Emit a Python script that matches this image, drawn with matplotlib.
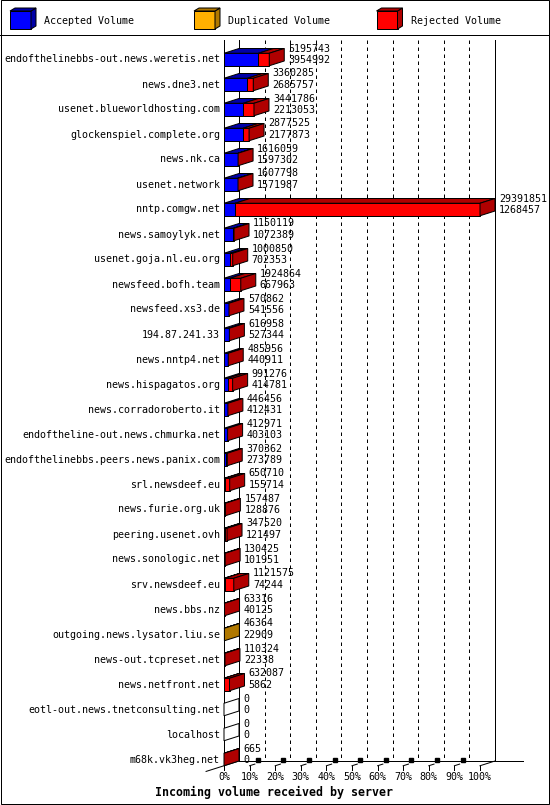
import matplotlib
matplotlib.use("Agg")
import matplotlib.pyplot as plt
from matplotlib.patches import Polygon, Rectangle
import numpy as np

servers = [
    "endofthelinebbs-out.news.weretis.net", "news.dne3.net",
    "usenet.blueworldhosting.com", "glockenspiel.complete.org",
    "news.nk.ca", "usenet.network", "nntp.comgw.net", "news.samoylyk.net",
    "usenet.goja.nl.eu.org", "newsfeed.bofh.team", "newsfeed.xs3.de",
    "194.87.241.33", "news.nntp4.net", "news.hispagatos.org",
    "news.corradoroberto.it", "endoftheline-out.news.chmurka.net",
    "endofthelinebbs.peers.news.panix.com", "srl.newsdeef.eu",
    "news.furie.org.uk", "peering.usenet.ovh", "news.sonologic.net",
    "srv.newsdeef.eu", "news.bbs.nz", "outgoing.news.lysator.liu.se",
    "news-out.tcpreset.net", "news.netfront.net",
    "eotl-out.news.tnetconsulting.net", "localhost", "m68k.vk3heg.net",
]
offered = [5195743, 3360285, 3441786, 2877525, 1616059, 1607798, 29391851,
           1150119, 1000850, 1924864, 570862, 616958, 485956, 991276, 446456,
           412971, 370362, 650710, 157487, 347520, 130425, 1121575, 63316,
           46364, 110324, 632087, 0, 0, 665]
accepted = [3954992, 2685757, 2213053, 2177873, 1597302, 1571987, 1268457,
            1072389, 702353, 667963, 541556, 527344, 440911, 414781, 412431,
            403103, 273789, 155714, 128876, 121497, 101951, 74244, 40125,
            22909, 22338, 5862, 0, 0, 0]
duplicated = [0] * len(servers)
duplicated[servers.index("outgoing.news.lysator.liu.se")] = 46364 - 22909
rejected = [o - a - d for o, a, d in zip(offered, accepted, duplicated)]

legend_labels = ["Accepted Volume", "Duplicated Volume", "Rejected Volume"]
face_colors = ["#0000ff", "#ffb000", "#ff0000"]
dark_colors = ["#0000a8", "#b07800", "#b00000"]
pct_ticks = list(range(0, 101, 10))
title = "Incoming volume received by server"

W, H_PX = 550, 805
mono = "DejaVu Sans Mono"
plt.rcParams["font.family"] = mono
fs = 7.2
lw = 0.72

fig = plt.figure(figsize=(W / 100, H_PX / 100), dpi=100)
fig.patch.set_facecolor("white")


def px(x, y):
    return (x / W, 1 - y / H_PX)


# frame and legend separator
fig.patches.append(Rectangle(px(0.5, 803.5), 548.5 / W, 803 / H_PX, transform=fig.transFigure,
                             fill=False, ec="black", lw=lw))
fig.lines.append(plt.Line2D([px(0, 0)[0], px(550, 0)[0]], [px(0, 35)[1]] * 2,
                            transform=fig.transFigure, color="black", lw=lw))

# legend boxes
for x0, lab, fc, dc in zip([10, 194, 376.5], legend_labels, face_colors, dark_colors):
    front = [px(x0, 11), px(x0 + 21, 11), px(x0 + 21, 29), px(x0, 29)]
    side = [px(x0 + 21, 11), px(x0 + 26, 8), px(x0 + 26, 26), px(x0 + 21, 29)]
    top = [px(x0, 11), px(x0 + 5, 8), px(x0 + 26, 8), px(x0 + 21, 11)]
    for pts, c in [(front, fc), (side, dc), (top, dc)]:
        fig.patches.append(Polygon(pts, closed=True, transform=fig.transFigure,
                                   fc=c, ec="black", lw=lw))
    fig.text(*px(x0 + 34.5, 20.5), lab, fontsize=fs, va="center", ha="left")

# plot axes: x in percent of the largest offered volume, y in rows
n = len(servers)
ax = fig.add_axes([224 / W, 1 - 772 / H_PX, 256 / W, 725 / H_PX])
ax.set_xlim(0, 100)
ax.set_ylim(n - 0.5, -0.5)
ax.axis("off")

vmax = max(offered)
DX = 15 / 2.56       # depth in percent
DY = 0.19            # depth in rows
HH = 0.25            # half height of a bar face
top_y = -0.78
front_base = (n - 1) + HH
back_base = front_base - DY

# back wall grid
ax.plot([DX, DX], [top_y, back_base], color="black", lw=lw, zorder=1, clip_on=False)
ax.plot([100 + DX, 100 + DX], [top_y, back_base], color="black", lw=lw, zorder=1, clip_on=False)
for p in pct_ticks[1:-1]:
    ax.plot([p + DX, p + DX], [top_y, back_base], color="black", lw=lw,
            dashes=(3.5, 3.5), zorder=1, clip_on=False)
# front wall line
ax.plot([0, 0], [top_y, front_base], color="black", lw=lw, zorder=1, clip_on=False)

# floor
ax.plot([DX, 116.8], [back_base, back_base], color="black", lw=lw, zorder=1, clip_on=False)
ax.plot([100, 100 + DX], [front_base, back_base], color="black", lw=lw, zorder=1, clip_on=False)
ax.plot([-7, DX], [front_base + DY * 7 / DX, back_base], color="black", lw=lw, zorder=1, clip_on=False)
for p in pct_ticks:
    ax.plot([p, p], [front_base, front_base + 0.16], color="black", lw=lw, clip_on=False)
    if 0 < p < 100:
        ax.plot([p, p + 0.35 * DX], [front_base, front_base - 0.35 * DY], color="black",
                lw=lw, clip_on=False)
        ax.plot([p + 0.55 * DX], [back_base - 0.03], marker="s", ms=2.2, color="black",
                clip_on=False)
    ax.text(p, 28.7, f"{p}%", fontsize=fs, ha="center", va="center")

# bars
for i in range(n):
    segs = [accepted[i], duplicated[i], rejected[i]]
    yt, yb = i - HH, i + HH
    x0 = 0.0
    end_dark = "white"
    for v, fc, dc in zip(segs, face_colors, dark_colors):
        if v <= 0:
            continue
        x1 = x0 + 100.0 * v / vmax
        ax.add_patch(Polygon([(x0, yb), (x1, yb), (x1, yt), (x0, yt)], closed=True,
                             fc=fc, ec="black", lw=lw, zorder=3, clip_on=False))
        ax.add_patch(Polygon([(x0, yt), (x1, yt), (x1 + DX, yt - DY), (x0 + DX, yt - DY)],
                             closed=True, fc=dc, ec="black", lw=lw, zorder=3, clip_on=False))
        end_dark = dc
        x0 = x1
    ax.add_patch(Polygon([(x0, yb), (x0, yt), (x0 + DX, yt - DY), (x0 + DX, yb - DY)],
                         closed=True, fc=end_dark, ec="black", lw=lw, zorder=3, clip_on=False))
    tx = x0 + DX + 1.6
    ax.text(tx, i - 0.44, str(offered[i]), fontsize=fs, ha="left", va="center", zorder=4)
    ax.text(tx, i + 0.03, str(accepted[i]), fontsize=fs, ha="left", va="center", zorder=4)
    ax.text(-1.6, i, servers[i], fontsize=fs, ha="right", va="center")

fig.text(*px(274, 792), title, fontsize=8.4, fontweight="bold", ha="center", va="center")

fig.savefig("out.png", dpi=100, facecolor="white")
